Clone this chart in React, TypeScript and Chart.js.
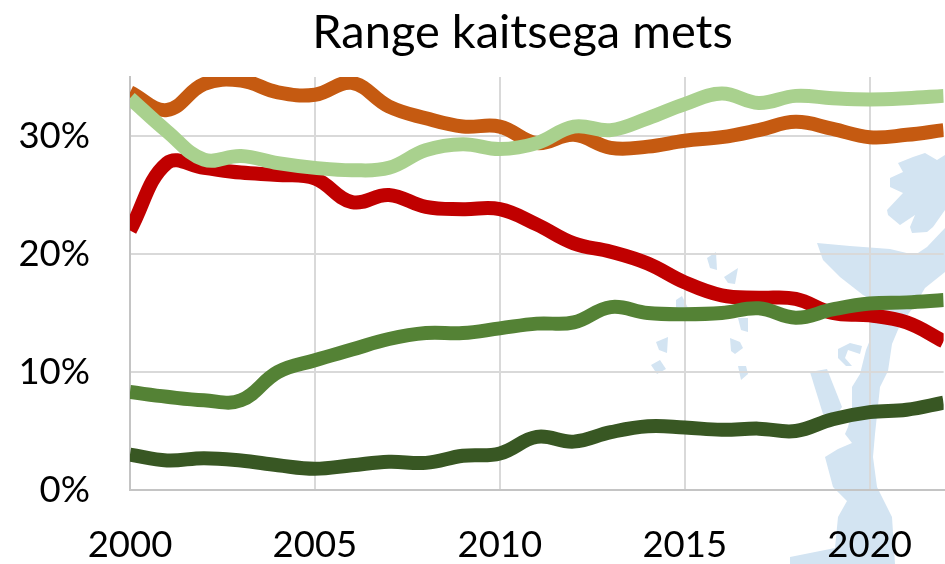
import React, { useEffect, useRef } from "react";
import { Chart, registerables } from "chart.js";

Chart.register(...registerables);

const years = [2000,2001,2002,2003,2004,2005,2006,2007,2008,2009,2010,2011,2012,2013,2014,2015,2016,2017,2018,2019,2020,2021,2022];
const orange = [33.7,32.2,34.4,34.7,33.7,33.5,34.5,32.5,31.5,30.8,30.8,29.4,30.1,29.0,29.1,29.6,29.9,30.5,31.2,30.6,29.9,30.1,30.5];
const lightGreen = [33.2,30.4,28.0,28.3,27.7,27.3,27.1,27.3,28.8,29.3,28.9,29.4,30.8,30.5,31.5,32.7,33.6,32.8,33.4,33.2,33.1,33.2,33.4];
const red = [22.0,27.7,27.3,26.9,26.7,26.4,24.4,25.0,24.0,23.8,23.8,22.5,20.9,20.2,19.2,17.6,16.5,16.3,16.2,15.0,14.8,14.2,12.6];
const midGreen = [8.3,7.9,7.6,7.6,10.0,11.0,11.9,12.8,13.3,13.3,13.7,14.1,14.2,15.5,15.0,14.9,15.0,15.4,14.6,15.3,15.8,15.9,16.1];
const darkGreen = [3.0,2.5,2.7,2.5,2.1,1.8,2.1,2.4,2.3,2.9,3.1,4.5,4.1,4.9,5.4,5.3,5.1,5.2,5.0,6.0,6.6,6.8,7.4];

const title = "Range kaitsega mets";
const FONT = "Lato";

const series = [
  { values: lightGreen, color: "#a9d18e", order: 0 },
  { values: midGreen, color: "#548235", order: 1 },
  { values: darkGreen, color: "#385723", order: 2 },
  { values: red, color: "#c00000", order: 3 },
  { values: orange, color: "#c55a11", order: 4 },
];

// Faint map watermark behind the plot (decoration only)
const mapShapes = [
  "898,163 913,157 925,153 937,160 945,155 945,210 933,227 927,232 912,233 910,227 915,215 900,225 888,215 887,210 903,193 890,187 890,178 903,172",
  "817,243 850,246 890,249 915,255 927,247 945,228 945,272 925,288 915,305 900,325 892,344 888,371 880,387 875,434 873,457 877,487 892,517 895,564 790,564 790,557 835,548 838,517 847,501 833,487 825,457 838,449 852,443 845,434 848,427 852,411 852,387 860,374 866,350 870,340 872,300 863,295 840,277 823,260",
  "810,372 827,369 842,407 837,414 823,414",
  "838,349 850,343 862,346 860,354 848,350 845,358 852,366 846,366 838,358",
  "707,258 716,252 717,270 710,268",
  "724,277 738,268 735,284 728,283",
  "676,300 682,296 688,308 676,310",
  "738,318 748,318 748,332 741,330",
  "656,342 668,337 667,353 659,350",
  "730,338 740,342 743,348 735,354 731,351",
  "651,365 660,360 666,369 657,374",
  "738,366 746,366 748,374 741,380",
];

const shiftTitle = {
  id: "shiftTitle",
  afterLayout(chart: any) {
    if (chart.titleBlock) chart.titleBlock.left = 100;
  },
};

export default function App() {
  const ref = useRef<HTMLCanvasElement>(null);
  useEffect(() => {
    const chart = new Chart(ref.current as HTMLCanvasElement, {
      type: "line",
      plugins: [shiftTitle],
      data: {
        datasets: series.map((s) => ({
          data: s.values.map((v, i) => ({ x: years[i], y: v })),
          borderColor: s.color,
          backgroundColor: s.color,
          borderWidth: 14,
          pointRadius: 0,
          tension: 0.4,
          order: s.order,
          clip: 0,
          fill: false,
          borderCapStyle: "butt",
          borderJoinStyle: "round",
        })),
      },
      options: {
        responsive: false,
        animation: false,
        layout: { padding: 0 },
        elements: { line: { capBezierPoints: false } },
        plugins: {
          legend: { display: false },
          tooltip: { enabled: false },
          title: {
            display: true,
            text: title,
            color: "#000000",
            font: { family: FONT, size: 47, weight: "normal", lineHeight: 1 },
            padding: { top: 9, bottom: 21 },
          },
        },
        scales: {
          x: {
            type: "linear",
            min: 2000,
            max: 2022,
            afterFit: (s: any) => { s.height = 74; },
            ticks: {
              stepSize: 5,
              includeBounds: false,
              autoSkip: false,
              maxRotation: 0,
              padding: 33,
              color: "#000000",
              font: { family: FONT, size: 36.5 },
              callback: (v: any) => String(v),
            },
            grid: { color: "#d9d9d9", lineWidth: 2, drawTicks: false },
            border: { color: "#c4c4c4", width: 2 },
          },
          y: {
            min: 0,
            max: 35,
            afterFit: (s: any) => { s.width = 130; },
            ticks: {
              stepSize: 10,
              includeBounds: false,
              padding: 40,
              color: "#000000",
              font: { family: FONT, size: 36.5 },
              callback: (v: any) => v + "%",
            },
            grid: { color: "#d9d9d9", lineWidth: 2, drawTicks: false },
            border: { color: "#c4c4c4", width: 2 },
          },
        },
      },
    } as any);
    return () => chart.destroy();
  }, []);

  return (
    <div style={{ position: "absolute", left: 0, top: 0, width: 945, height: 564, overflow: "hidden", background: "#ffffff" }}>
      <svg width={945} height={564} style={{ position: "absolute", left: 0, top: 0 }}>
        {mapShapes.map((p, i) => (
          <polygon key={i} points={p} fill="#d3e4f2" />
        ))}
      </svg>
      <canvas ref={ref} width={945} height={564} style={{ position: "absolute", left: 0, top: 0, display: "block" }} />
    </div>
  );
}
